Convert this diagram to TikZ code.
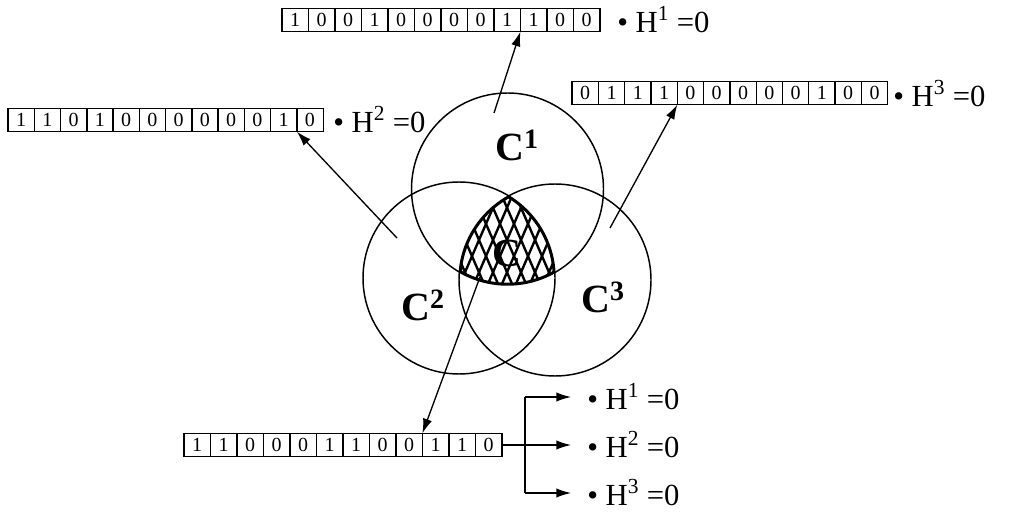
\documentclass[tikz,border=0pt]{standalone}
\usepackage{fontspec}
\setmainfont{Liberation Serif}
\usetikzlibrary{arrows.meta}
\begin{document}
\begin{tikzpicture}[x=0.75pt,y=-0.75pt,
  cell/.style={draw, line width=0.9pt, minimum width=19.8pt, minimum height=17.5pt, inner sep=0pt, outer sep=0pt, anchor=west, font=\fontsize{15}{15}\selectfont},
  lab/.style={anchor=west, inner sep=0pt, font=\fontsize{23}{23}\selectfont},
  big/.style={inner sep=0pt, font=\fontsize{30}{30}\selectfont\bfseries},
  set/.style={draw, circle, line width=1.1pt, inner sep=0pt, minimum size=144pt},
  arr/.style={line width=1pt, -{Latex[length=11pt,width=7pt]}},
  hatch/.style={line width=1.8pt}]
\useasboundingbox (0,0) rectangle (1009,513);
% sets
\node[set] (C1) at (507.5,189) {};
\node[set] (C2) at (459,278) {};
\node[set] (C3) at (555,280) {};
% hatched triple intersection
\begin{scope}
  \clip (507.5,189) circle [radius=96];
  \clip (459,278) circle [radius=96];
  \clip (555,280) circle [radius=96];
  \foreach \k in {-12,...,12} {
    \draw[hatch] ({507+14*\k-26},300) -- ({507+14*\k+26},180);
    \draw[hatch] ({507+14*\k+26},300) -- ({507+14*\k-26},180);
  }
  \draw[line width=3.4pt] (507.5,189) circle [radius=96];
  \draw[line width=3.4pt] (459,278) circle [radius=96];
  \draw[line width=3.4pt] (555,280) circle [radius=96];
\end{scope}
% labels in sets
\node[big] (L1) at (517,145) {C\textsuperscript{1}};
\node[big] (L2) at (423,305) {C\textsuperscript{2}};
\node[big] (L3) at (603,297) {C\textsuperscript{3}};
\node[big] (L0) at (507,253) {C};
% bit strings
\foreach \b [count=\i] in {1,0,0,1,0,0,0,0,1,1,0,0}
  \node[cell] (t\i) at ({282+(\i-1)*26.5}, 20) {\b};
\foreach \b [count=\i] in {1,1,0,1,0,0,0,0,0,0,1,0}
  \node[cell] (l\i) at ({8+(\i-1)*26.25}, 120) {\b};
\foreach \b [count=\i] in {0,1,1,1,0,0,0,0,0,1,0,0}
  \node[cell] (r\i) at ({572+(\i-1)*26.3}, 93) {\b};
\foreach \b [count=\i] in {1,1,0,0,0,1,1,0,0,1,1,0}
  \node[cell] (b\i) at ({184+(\i-1)*26.5}, 445) {\b};
% results
\node[lab] (h1) at (617,20) {• H\textsuperscript{1} =0};
\node[lab] (h2) at (333,120) {• H\textsuperscript{2} =0};
\node[lab] (h3) at (893,94) {• H\textsuperscript{3} =0};
\node[lab] (o1) at (587,397) {• H\textsuperscript{1} =0};
\node[lab] (o2) at (587,445) {• H\textsuperscript{2} =0};
\node[lab] (o3) at (587,493) {• H\textsuperscript{3} =0};
% arrows from the sets
\coordinate (a1) at (494,113);
\coordinate (a2) at (397,238);
\coordinate (a3) at (610,228);
\coordinate (a0) at (480,277);
\draw[arr] (a1) -- (t9.south east);
\draw[arr] (a2) -- (l11.south east);
\draw[arr] (a3) -- (r4.south east);
\draw[arr] (a0) -- (b9.north east);
% output fan
\coordinate (j) at (525,445);
\coordinate (jt) at (525,397);
\coordinate (jb) at (525,493);
\draw[line width=1pt] (b12.east) -- (j);
\draw[line width=1pt] (jt) -- (jb);
\draw[arr] (jt) -- ([xshift=-12pt]o1.west);
\draw[arr] (j) -- ([xshift=-12pt]o2.west);
\draw[arr] (jb) -- ([xshift=-12pt]o3.west);
\end{tikzpicture}
\end{document}
